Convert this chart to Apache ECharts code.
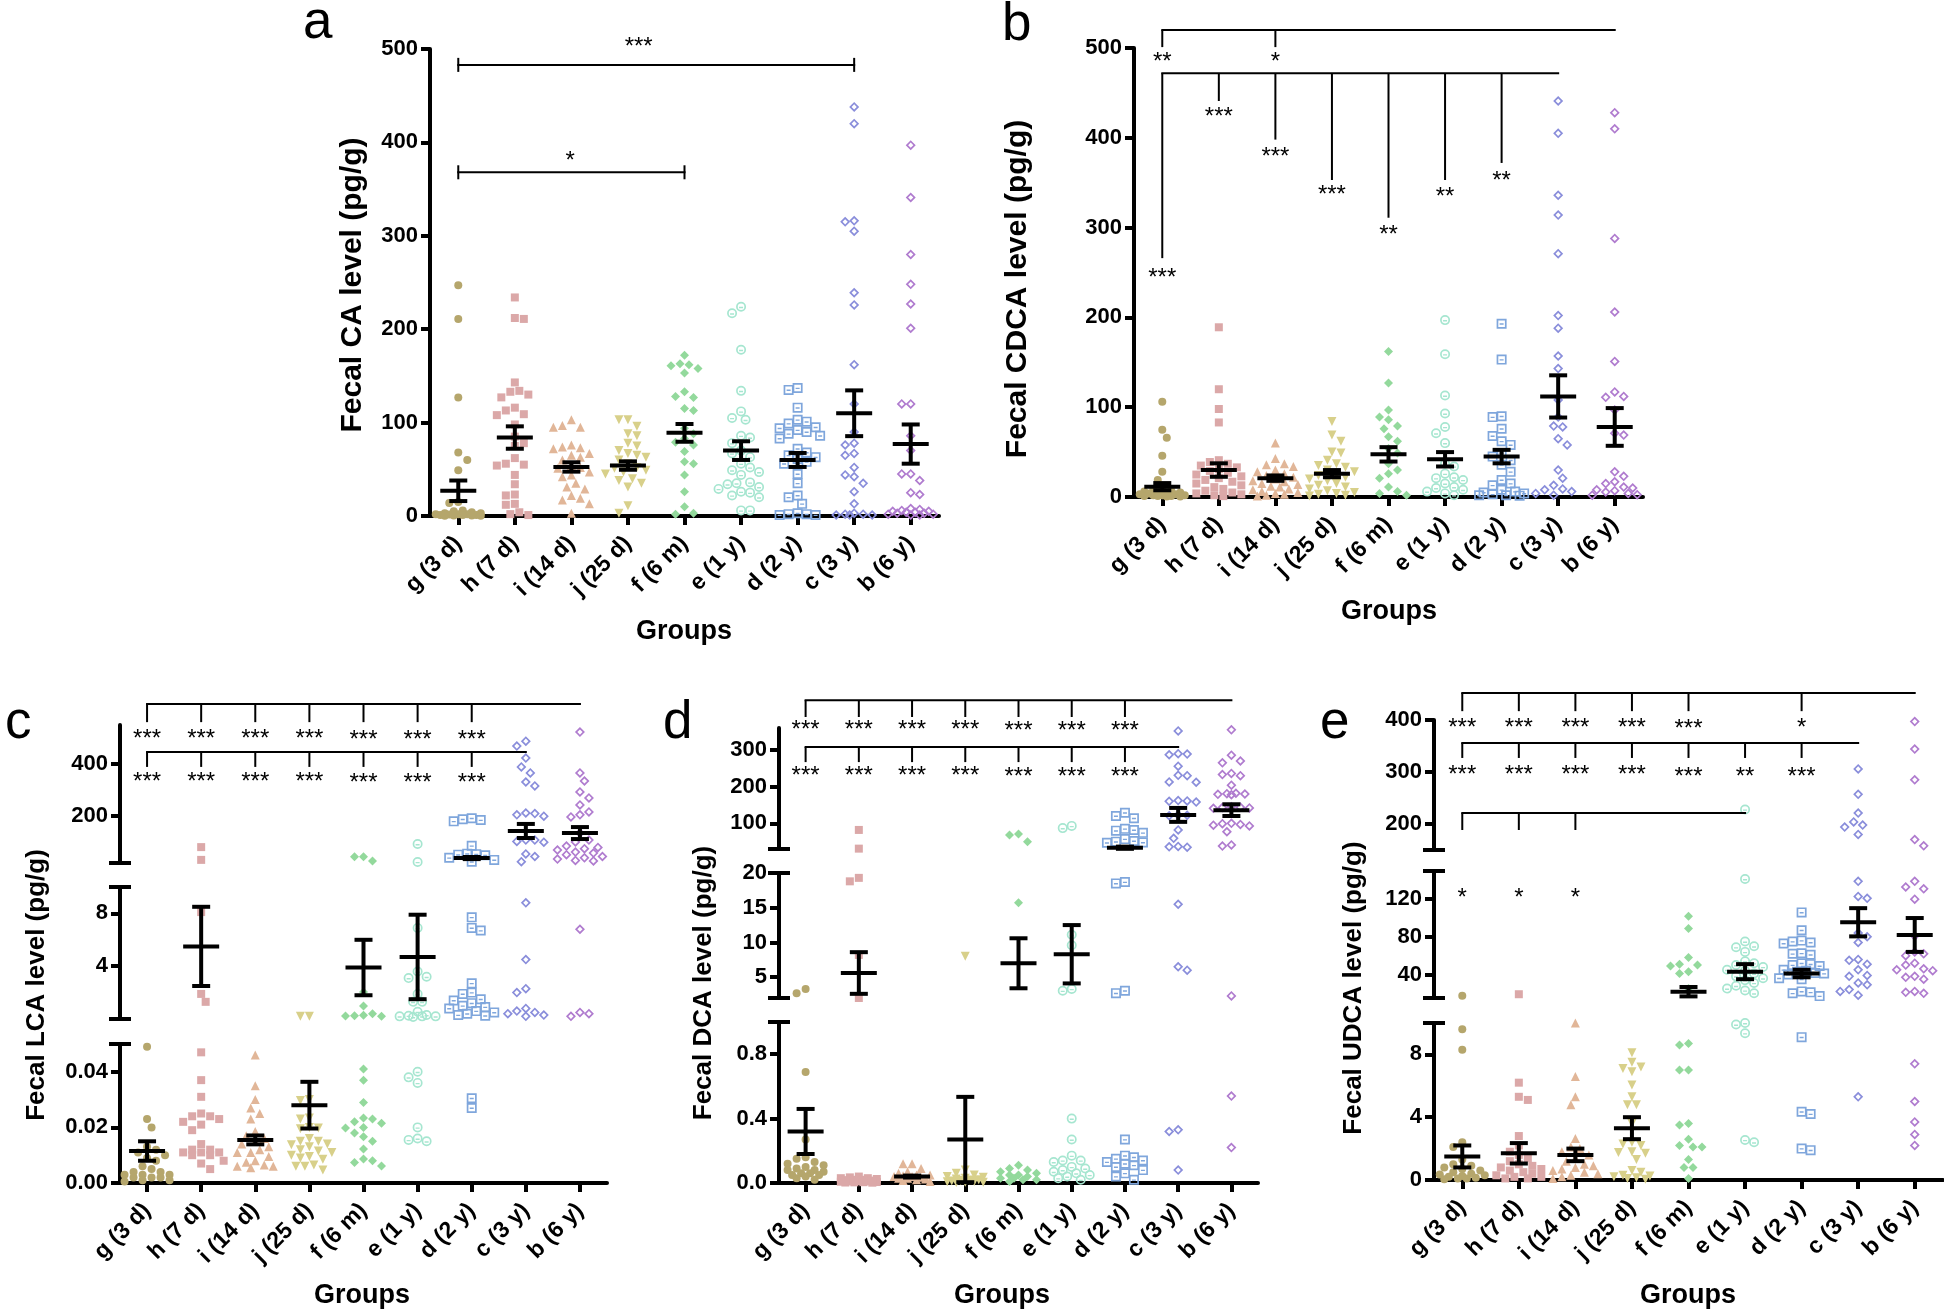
<!DOCTYPE html>
<html><head><meta charset="utf-8">
<script src="https://cdn.jsdelivr.net/npm/echarts@6/dist/echarts.min.js"></script>
<style>html,body{margin:0;padding:0;background:#fff}#c{width:1944px;height:1316px}</style>
</head><body><div id="c"></div>
<script>
// ================= DATA =================
const groups = ['g (3 d)','h (7 d)','i (14 d)','j (25 d)','f (6 m)','e (1 y)','d (2 y)','c (3 y)','b (6 y)'];

// Panel a: fecal CA (pg/g)
const caValues = [
 [247,211,127,68,60,49,15,14,6,5,4,3,3,2,2,2,1.5,1,1,1,0.5,0.5,0.3,0.2],
 [234,212,211,143,134,133,130,127,116,113,109,108,98,85,78,75,62,56,55,54,44,34,23,22,13,12,4,2,1],
 [103,97,95,95,76,74,73,72,67,65,63,60,54,52,51,47,44,42,35,31,29,22,19,17,13,3],
 [103,103,96,88,86,78,75,70,67,65,63,60,56,52,51,49,47,45,40,38,35,31,11,3],
 [172,163,162,161,158,153,133,128,127,115,113,94,88,83,79,76,69,58,56,44,26,10,3,2],
 [224,217,178,134,112,105,103,86,84,78,70,67,63,56,52,49,47,44,36,35,34,31,29,26,25,22,20,6,6],
 [137,135,116,103,101,99,95,94,92,90,88,86,83,72,68,65,63,61,58,56,45,35,22,20,13,3,2,2,1,1],
 [438,420,316,315,305,239,226,162,120,90,78,76,67,65,52,44,42,35,26,13,3,2,2,1,1,1],
 [397,341,280,248,227,201,120,120,86,70,45,45,38,25,23,8,7,6,5,5,4,4,3,3,2,2,1,1]
];
const caMean = [27,84,52.5,54,89,70,60,110,77];
const caSem  = [11,12,5,4.5,9.5,10,7.5,24.5,21];

// Panel b: fecal CDCA (pg/g)
const cdcaValues = [
 [106,75,66,46,28,19,9,8,7,6,5,5,4,4,3,3,2,2,2,1,1,1,0.5,0.5],
 [189,120,98,83,41,39,37,35,33,31,29,27,25,23,21,19,17,15,13,11,9,7,5,4,3,2,1],
 [60,43,37,36,34,30,28,26,24,22,20,18,17,15,14,12,11,9,8,6,5,4,3,2,1],
 [84,69,62,50,49,41,37,35,33,30,28,26,24,22,20,18,15,13,11,9,7,5,4,3,2,1],
 [162,127,97,89,86,79,76,67,62,54,49,37,30,26,21,11,6,4,2],
 [197,159,113,93,78,71,60,37,34,26,22,21,19,15,11,10,8,6,4,2],
 [193,153,90,89,76,68,62,58,49,45,41,36,28,19,15,13,8,6,5,4,3,2,2,1.5],
 [441,405,336,314,271,202,188,157,143,108,89,79,78,65,58,30,21,13,9,8,6,4,2],
 [428,410,288,206,151,117,112,111,97,71,69,28,23,17,15,11,10,8,7,5.5,4,2.6,2]
];
const cdcaMean = [11.5,30,21,26,47.5,42,45,112,78];
const cdcaSem  = [4,7.5,3,4,8,8,7.5,23.5,21];

// Panel c: fecal LCA (pg/g)
const lcaValues = [
 [0.049,0.023,0.020,0.013,0.012,0.011,0.010,0.009,0.008,0.006,0.005,0.004,0.004,0.003,0.003,0.003,0.002,0.002,0.002,0.001,0.001,0.0005],
 [81,32,8.1,1.9,1.3,0.047,0.037,0.031,0.025,0.024,0.024,0.023,0.022,0.021,0.019,0.014,0.012,0.012,0.011,0.011,0.011,0.010,0.010,0.008,0.007,0.005],
 [0.046,0.035,0.030,0.027,0.025,0.023,0.0185,0.017,0.016,0.015,0.014,0.013,0.012,0.011,0.011,0.0095,0.008,0.0075,0.0065,0.006,0.006,0.0055],
 [0.2,0.2,0.030,0.0297,0.0234,0.023,0.020,0.0198,0.0195,0.016,0.015,0.015,0.014,0.0138,0.013,0.012,0.0115,0.011,0.010,0.0095,0.009,0.0085,0.0065,0.006,0.006,0.0047],
 [44,44,28,2.05,0.99,0.4,0.28,0.25,0.22,0.2,0.041,0.037,0.029,0.0234,0.023,0.022,0.0215,0.02,0.0198,0.018,0.0166,0.015,0.0122,0.0086,0.008,0.0074,0.0061],
 [93,24,6.9,3.6,3.2,3.1,1.9,1.3,1.3,0.55,0.3,0.25,0.2,0.2,0.2,0.15,0.04,0.038,0.036,0.02,0.0155,0.015,0.016],
 [192,188,180,185,86,56,52,50,54,40,32,25,7.7,6.9,6.7,2.7,2.0,1.9,1.5,1.4,1.2,1.0,0.9,0.8,0.6,0.5,0.4,0.3,0.25,0.0305,0.027],
 [488,469,423,389,366,331,316,212,210,200,205,108,100,103,108,55,25,45,8.8,4.5,2.3,2.0,0.8,0.6,0.5,0.4,0.3,0.2],
 [523,366,335,293,270,243,216,205,197,135,108,101,85,80,75,70,62,58,52,45,40,35,30,28,6.8,0.5,0.4,0.2]
];
const lcaMean = [0.0115,5.5,0.0155,0.028,3.9,4.7,39,143,135];
const lcaSem  = [0.0035,3.0,0.0016,0.0084,2.1,3.2,4,27,23];

// Panel d: fecal DCA (pg/g)
const dcaValues = [
 [3.3,2.7,0.69,0.27,0.16,0.15,0.13,0.12,0.11,0.10,0.09,0.08,0.08,0.07,0.06,0.06,0.05,0.05,0.04,0.03,0.02],
 [82,31,19.3,18.8,8.2,2.0,0.04,0.035,0.03,0.03,0.025,0.02,0.02,0.018,0.015,0.012,0.01,0.01,0.008,0.006,0.005,0.004,0.003,0.002],
 [0.12,0.12,0.09,0.07,0.06,0.05,0.05,0.045,0.04,0.04,0.035,0.03,0.03,0.025,0.02,0.015,0.01],
 [8.0,0.08,0.06,0.05,0.04,0.035,0.03,0.025,0.02,0.018,0.015,0.012,0.01,0.008,0.005,0.004,0.003],
 [71,68,50,15.7,0.11,0.09,0.08,0.07,0.06,0.05,0.05,0.04,0.03,0.03,0.02,0.02,0.01],
 [93,87,11.1,9.6,3.3,3.05,0.40,0.27,0.17,0.14,0.14,0.13,0.10,0.09,0.08,0.07,0.06,0.05,0.04,0.03,0.02],
 [129,114,120,82,85,80,74,57,52,50,48,47,18.7,18.5,2.7,3.05,0.27,0.17,0.16,0.15,0.14,0.13,0.12,0.11,0.10,0.08,0.06,0.04,0.02],
 [352,289,290,287,256,230,231,213,212,161,160,162,158,123,122,121,82,59,36,37,35,15.5,6.5,6.0,0.33,0.32,0.08],
 [355,286,270,265,236,233,230,204,182,181,180,179,178,145,144,143,142,141,100,99,97,95,93,77,41,38,2.3,0.54,0.22]
];
const dcaMean = [0.32,5.6,0.04,0.27,7.0,8.3,33.5,123,136];
const dcaSem  = [0.14,3.0,0.006,0.265,3.6,4.2,3,19,16];

// Panel e: fecal UDCA (pg/g)
const udcaValues = [
 [17.5,9.6,8.3,2.4,2.1,1.3,1.0,0.9,0.8,0.7,0.6,0.5,0.4,0.35,0.3,0.25,0.2,0.15,0.1,0.1,0.05],
 [19,6.2,5.3,5.1,2.8,2.2,1.8,1.6,1.4,1.2,1.0,0.9,0.8,0.7,0.6,0.5,0.4,0.3,0.2,0.2,0.1,0.1],
 [10,6.6,5.3,4.8,2.65,2.1,2.0,1.8,1.6,1.4,1.2,1.0,0.9,0.8,0.7,0.6,0.5,0.4,0.3,0.2,0.1],
 [8.1,7.5,7.2,7.1,6.9,6.05,5.3,4.8,4.8,3.6,2.4,2.3,2.2,1.8,1.75,1.7,1.3,0.6,0.5,0.3,0.25,0.2,0.15,0.1,0.05],
 [102,89,58,51,50,49,43,41,25,8.7,8.6,7.0,7.0,3.6,3.5,2.6,2.2,2.1,2.1,1.3,0.8,0.8,0.1],
 [228,141.5,75,70,69,64,54,52,50,48,45,44,41,38,36,34,31,28,25,23,20,10,9.35,9.9,2.55,2.4],
 [106,87,76,75,74,73,62.5,62,61,52,51,50,49,45,44,43,41.5,41,40,36,35,22,21,20,17,9.1,4.35,4.2,2.0,1.9],
 [306,257,221,204,198,194,180,139,123,121,84,80,74,56,55,51,45,39,38,31,29,24,22,18,5.3],
 [397,344,285,170,158,139,133,131,120,81,64,62,60,52,50,46,45,44,38,37,35,22,21,20,7.4,5.0,3.7,2.9,2.2]
];
const udcaMean = [1.5,1.7,1.6,3.3,21.7,43,41,95.5,82];
const udcaSem  = [0.7,0.65,0.4,0.7,5,8,4,15,18];

// Significance annotations: lines [fromGroup, toGroup, y], drops [group, y1, y2], labels [x, y, text]
const caAnn = {
  lines: [[0,7,483],[0,4,368]],
  drops: [[0,475.5,490.5],[7,475.5,490.5],[0,360.5,375.5],[4,360.5,375.5]],
  labels: [[3.19,507,'***'],[1.98,385,'*']]
};
const cdcaAnn = {
  lines: [[0,8,520],[0,7,472]],
  drops: [[0,520,501],[2,520,501],[0,472,266],[1,472,441],[2,472,398],[3,472,353],[4,472,311],[5,472,353],[6,472,372]],
  labels: [[0,490,'**'],[2,490,'*'],[0,249,'***'],[1,428,'***'],[2,384,'***'],[3,341,'***'],[4,297,'**'],[5,339,'**'],[6,357,'**']]
};
const lcaAnn = {
  lines: [[0,8,631],[0,7,446]],
  drops: [[0,631,561],[1,631,561],[2,631,561],[3,631,561],[4,631,561],[5,631,561],[6,631,561],
          [0,446,389],[1,446,389],[2,446,389],[3,446,389],[4,446,389],[5,446,389],[6,446,389]],
  labels: [[0,515,'***'],[1,515,'***'],[2,515,'***'],[3,515,'***'],[4,510,'***'],[5,510,'***'],[6,510,'***'],
           [0,350,'***'],[1,350,'***'],[2,350,'***'],[3,350,'***'],[4,344,'***'],[5,344,'***'],[6,344,'***']]
};
const dcaAnn = {
  lines: [[0,8,436],[0,7,308]],
  drops: [[0,436,390],[1,436,390],[2,436,390],[3,436,390],[4,436,390],[5,436,390],[6,436,390],
          [0,308,267],[1,308,267],[2,308,267],[3,308,267],[4,308,267],[5,308,267],[6,308,267]],
  labels: [[0,368,'***'],[1,368,'***'],[2,368,'***'],[3,368,'***'],[4,365,'***'],[5,365,'***'],[6,365,'***'],
           [0,243,'***'],[1,243,'***'],[2,243,'***'],[3,243,'***'],[4,240,'***'],[5,240,'***'],[6,240,'***']]
};
const udcaAnn = {
  lines: [[0,8,452],[0,7,356],[0,5,221]],
  drops: [[0,452,417],[1,452,417],[2,452,417],[3,452,417],[4,452,417],[6,452,417],
          [0,356,327],[1,356,327],[2,356,327],[3,356,327],[4,356,327],[5,356,327],[6,356,327],
          [0,221,188.5],[1,221,188.5],[2,221,188.5]],
  labels: [[0,394,'***'],[1,394,'***'],[2,394,'***'],[3,394,'***'],[4,392,'***'],[6,394,'*'],
           [0,304,'***'],[1,304,'***'],[2,304,'***'],[3,304,'***'],[4,300,'***'],[5,300,'**'],[6,300,'***'],
           [0,67,'*'],[1,67,'*'],[2,67,'*']]
};

// ================= STYLE / LAYOUT =================
const FONT = '"Liberation Sans", Arial, Helvetica, sans-serif';
const colors = ['#b5a66c','#dba8a8','#e1b698','#d8d08a','#93d99c','#a6e6d0','#7fa6dc','#8a8edb','#b07ccf'];
const symbols = [
  'circle', 'rect', 'triangle',
  'path://M0,0L100,0L50,86Z',
  'diamond',
  'path://M50,0A50,50,0,1,1,49.9,0ZM50,17A33,33,0,1,0,50.1,17ZM30,50L70,50L70,64L30,64Z',
  'path://M0,0L100,0L100,100L0,100ZM17,17L17,83L83,83L83,17ZM30,46L70,46L70,60L30,60Z',
  'path://M50,0L100,50L50,100L0,50ZM50,24L24,50L50,76L76,50Z',
  'path://M50,0L100,50L50,100L0,50ZM50,24L24,50L50,76L76,50Z'
];
const symbolSizes = [8,8,9,9,9,10,10,10,10];

const panels = [
  { letter:'a', title:'Fecal CA level (pg/g)', values:caValues, mean:caMean, sem:caSem, ann:caAnn,
    left:430, width:509, titleX:353, titleY:285, titleSize:30, letterX:303, letterY:23, groupsX:684, groupsY:632,
    segs:[{top:49,height:467,min:0,max:500,ticks:[0,100,200,300,400,500],dec:0}] },
  { letter:'b', title:'Fecal CDCA level (pg/g)', values:cdcaValues, mean:cdcaMean, sem:cdcaSem, ann:cdcaAnn,
    left:1134, width:509, titleX:1018, titleY:289, titleSize:30, letterX:1002, letterY:25, groupsX:1389, groupsY:612,
    segs:[{top:48,height:449,min:0,max:500,ticks:[0,100,200,300,400,500],dec:0}] },
  { letter:'c', title:'Fecal LCA level (pg/g)', values:lcaValues, mean:lcaMean, sem:lcaSem, ann:lcaAnn,
    left:120, width:487, titleX:37, titleY:985, titleSize:26, letterX:5, letterY:723, groupsX:362, groupsY:1296,
    segs:[{top:1044,height:139,min:0,max:0.05,ticks:[0,0.02,0.04],dec:2,capTop:true},
          {top:887,height:132,min:0,max:10,ticks:[4,8],dec:0,capTop:true,capBottom:true},
          {top:725,height:138,min:20,max:550,ticks:[200,400],dec:0,capBottom:true}] },
  { letter:'d', title:'Fecal DCA level (pg/g)', values:dcaValues, mean:dcaMean, sem:dcaSem, ann:dcaAnn,
    left:779, width:479, titleX:704, titleY:983, titleSize:26, letterX:663, letterY:723, groupsX:1002, groupsY:1296,
    segs:[{top:1022,height:161,min:0,max:1,ticks:[0,0.4,0.8],dec:1,capTop:true},
          {top:873,height:125,min:2,max:20,ticks:[5,10,15,20],dec:0,capTop:true,capBottom:true},
          {top:728,height:121,min:30,max:360,ticks:[100,200,300],dec:0,capBottom:true}] },
  { letter:'e', title:'Fecal UDCA level (pg/g)', values:udcaValues, mean:udcaMean, sem:udcaSem, ann:udcaAnn,
    left:1434, width:509, titleX:1354, titleY:988, titleSize:26, letterX:1320, letterY:723, groupsX:1688, groupsY:1296,
    segs:[{top:1023,height:157,min:0,max:10,ticks:[0,4,8],dec:0,capTop:true},
          {top:871,height:127,min:15,max:150,ticks:[40,80,120],dec:0,capTop:true,capBottom:true},
          {top:720,height:130,min:150,max:400,ticks:[200,300,400],dec:0,capBottom:true}] }
];

// beeswarm: horizontal pixel offsets so symbols do not overlap
function swarm(pys, step, maxHalf) {
  const idx = pys.map((_, i) => i).sort((a, b) => pys[a] - pys[b]);
  const placed = [], out = new Array(pys.length);
  let flip = 1;
  const nMax = Math.floor(maxHalf / (step / 2));
  idx.forEach(i => {
    const y = pys[i];
    let best = 0, bestD = -1;
    for (let k = 0; k <= 2 * nMax; k++) {
      const m = Math.ceil(k / 2);
      const off = (k % 2 ? flip : -flip) * m * step / 2;
      let dmin = Infinity;
      for (const p of placed) { const d = Math.hypot(p[0] - off, p[1] - y); if (d < dmin) dmin = d; }
      if (dmin >= step) { best = off; bestD = Infinity; break; }
      if (dmin > bestD) { bestD = dmin; best = off; }
    }
    flip = -flip;
    placed.push([best, y]); out[i] = best;
  });
  return out;
}

function segIndexOf(segs, v) {
  for (let i = 0; i < segs.length; i++) if (v <= segs[i].max) return i;
  return segs.length - 1;
}

const grid = [], xAxis = [], yAxis = [], series = [], graphic = [];
const black = '#000';

panels.forEach(P => {
  const catW = P.width / 9;
  const segRefs = [];
  P.segs.forEach((S, si) => {
    const gi = grid.length;
    grid.push({ left: P.left, top: S.top, width: P.width, height: S.height, containLabel: false, outerBoundsMode: 'none' });
    const xv = xAxis.length;
    xAxis.push({ type: 'value', gridIndex: gi, min: -0.5, max: 8.5, show: false });
    if (si === 0) {
      xAxis.push({ type: 'category', gridIndex: gi, data: groups, position: 'bottom',
        axisLine: { show: true, onZero: false, lineStyle: { color: black, width: 4 } },
        axisTick: { show: true, alignWithLabel: true, length: 9, lineStyle: { color: black, width: 4 } },
        axisLabel: { show: true, interval: 0, rotate: 45, margin: 24, color: black, fontSize: 23, fontWeight: 'bold', fontFamily: FONT },
        splitLine: { show: false } });
    }
    const yi = yAxis.length;
    yAxis.push({ type: 'value', gridIndex: gi, min: S.min, max: S.max,
      axisLine: { show: true, onZero: false, lineStyle: { color: black, width: 4 } },
      axisTick: { show: true, length: 9, customValues: S.ticks, lineStyle: { color: black, width: 4 } },
      axisLabel: { show: true, customValues: S.ticks, margin: 12, color: black, fontSize: 22, fontWeight: 'bold', fontFamily: FONT,
        formatter: v => Number(v).toFixed(S.dec) },
      splitLine: { show: false } });
    segRefs.push({ xv, yi });
  });

  // scatter points
  P.values.forEach((vals, g) => {
    const bySeg = P.segs.map(() => []);
    vals.forEach(v => bySeg[segIndexOf(P.segs, v)].push(v));
    bySeg.forEach((arr, si) => {
      if (!arr.length) return;
      const S = P.segs[si];
      const pys = arr.map(v => S.top + S.height * (1 - (v - S.min) / (S.max - S.min)));
      const dx = swarm(pys, 9, catW * 0.42);
      series.push({ type: 'scatter', xAxisIndex: segRefs[si].xv, yAxisIndex: segRefs[si].yi,
        symbol: symbols[g], symbolSize: symbolSizes[g], silent: true, z: 2, animation: false,
        itemStyle: { color: colors[g], opacity: 1, borderWidth: 0 },
        data: arr.map((v, k) => [g + dx[k] / catW, v]) });
    });
  });

  // mean +/- SEM bars
  const barsBySeg = P.segs.map(() => []);
  P.mean.forEach((m, g) => barsBySeg[segIndexOf(P.segs, m)].push([g, m, P.sem[g]]));
  barsBySeg.forEach((arr, si) => {
    if (!arr.length) return;
    series.push({ type: 'custom', xAxisIndex: segRefs[si].xv, yAxisIndex: segRefs[si].yi, z: 6, silent: true, animation: false,
      encode: { x: 0, y: 1 }, data: arr,
      renderItem: (params, api) => {
        const x = api.value(0), m = api.value(1), s = api.value(2);
        const c = api.coord([x, m]), t = api.coord([x, m + s]), b = api.coord([x, m - s]);
        const st = { stroke: black, lineWidth: 4 };
        return { type: 'group', children: [
          { type: 'line', shape: { x1: c[0] - 18, y1: c[1], x2: c[0] + 18, y2: c[1] }, style: st },
          { type: 'line', shape: { x1: c[0], y1: t[1], x2: c[0], y2: b[1] }, style: st },
          { type: 'line', shape: { x1: c[0] - 9, y1: t[1], x2: c[0] + 9, y2: t[1] }, style: st },
          { type: 'line', shape: { x1: c[0] - 9, y1: b[1], x2: c[0] + 9, y2: b[1] }, style: st }
        ] };
      } });
  });

  // broken-axis caps
  P.segs.forEach((S, si) => {
    if (!S.capTop && !S.capBottom) return;
    series.push({ type: 'custom', xAxisIndex: segRefs[si].xv, yAxisIndex: segRefs[si].yi, z: 7, silent: true, animation: false,
      encode: { x: 0, y: 1 }, data: [[-0.5, S.min]],
      renderItem: (params, api) => {
        const ch = [], st = { stroke: black, lineWidth: 4 };
        if (S.capTop) { const p = api.coord([-0.5, S.max]); ch.push({ type: 'line', shape: { x1: p[0] - 11, y1: p[1], x2: p[0] + 11, y2: p[1] }, style: st }); }
        if (S.capBottom) { const p = api.coord([-0.5, S.min]); ch.push({ type: 'line', shape: { x1: p[0] - 11, y1: p[1], x2: p[0] + 11, y2: p[1] }, style: st }); }
        return { type: 'group', children: ch };
      } });
  });

  // significance brackets (top segment coordinates)
  const top = segRefs[segRefs.length - 1];
  const ann = P.ann;
  series.push({ type: 'custom', xAxisIndex: top.xv, yAxisIndex: top.yi, z: 8, silent: true, animation: false, clip: false,
    encode: { x: 0, y: 1 }, data: [[0, P.segs[P.segs.length - 1].max]],
    renderItem: (params, api) => {
      const ch = [], ls = { stroke: black, lineWidth: 2 };
      ann.lines.forEach(([a, b, v]) => { const p1 = api.coord([a, v]), p2 = api.coord([b, v]);
        ch.push({ type: 'line', shape: { x1: p1[0] - 1, y1: p1[1], x2: p2[0] + 1, y2: p2[1] }, style: ls }); });
      ann.drops.forEach(([g, v1, v2]) => { const p1 = api.coord([g, v1]), p2 = api.coord([g, v2]);
        ch.push({ type: 'line', shape: { x1: p1[0], y1: p1[1], x2: p2[0], y2: p2[1] }, style: ls }); });
      ann.labels.forEach(([g, v, t]) => { const p = api.coord([g, v]);
        ch.push({ type: 'text', x: p[0], y: p[1] + 5, style: { text: t, font: '24px ' + FONT, fill: black,
          textAlign: 'center', textVerticalAlign: 'middle', align: 'center', verticalAlign: 'middle' } }); });
      return { type: 'group', children: ch };
    } });

  // titles
  graphic.push({ type: 'text', x: P.titleX, y: P.titleY, rotation: Math.PI / 2,
    style: { text: P.title, font: 'bold ' + P.titleSize + 'px ' + FONT, fill: black, textAlign: 'center', textVerticalAlign: 'middle', align: 'center', verticalAlign: 'middle' } });
  graphic.push({ type: 'text', x: P.groupsX, y: P.groupsY,
    style: { text: 'Groups', font: 'bold 27px ' + FONT, fill: black, textAlign: 'center', textVerticalAlign: 'middle', align: 'center', verticalAlign: 'middle' } });
  graphic.push({ type: 'text', x: P.letterX, y: P.letterY,
    style: { text: P.letter, font: '53px ' + FONT, fill: black, textAlign: 'left', textVerticalAlign: 'middle', align: 'left', verticalAlign: 'middle' } });
});

const chart = echarts.init(document.getElementById('c'), null, { renderer: 'canvas' });
chart.setOption({ backgroundColor: '#fff', animation: false, grid, xAxis, yAxis, series, graphic });
</script></body></html>
